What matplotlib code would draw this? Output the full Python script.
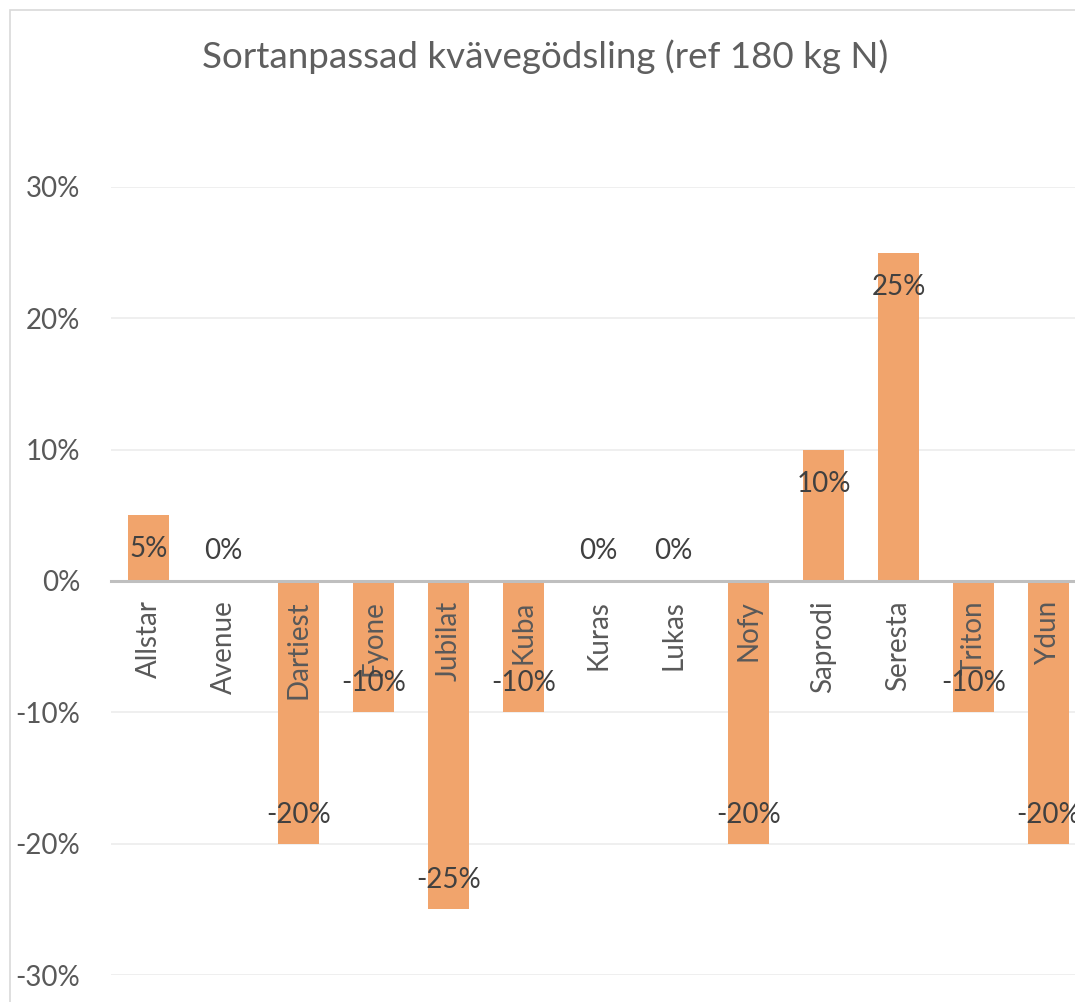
import numpy as np
import matplotlib.pyplot as plt
from matplotlib.patches import Rectangle
from matplotlib.ticker import PercentFormatter

sorter = ["Allstar", "Avenue", "Dartiest", "Fyone", "Jubilat", "Kuba", "Kuras",
          "Lukas", "Nofy", "Saprodi", "Seresta", "Triton", "Ydun"]
andel = [5, 0, -20, -10, -25, -10, 0, 0, -20, 10, 25, -10, -20]
yticks = [-30, -20, -10, 0, 10, 20, 30]

plt.rcParams['font.family'] = ['Lato', 'DejaVu Sans']
plt.rcParams['axes.unicode_minus'] = False

W, H = 1075, 1002
fig = plt.figure(figsize=(W / 100, H / 100), dpi=100)

# chart border (cut off on the right and bottom)
fig.patches.append(Rectangle((10 / W, -0.05), 1.1, (H - 10) / H + 0.05,
                             transform=fig.transFigure, fill=False,
                             edgecolor='#d9d9d9', linewidth=1.2))

fig.text(545 / W, 1 - 57 / H, "Sortanpassad kvävegödsling (ref 180 kg N)",
         ha='center', va='center', fontsize=26.5, color='#5f5f5f')

left, right, top, bottom = 111, 111 + 13 * 75, 187, 975
ax = fig.add_axes([left / W, 1 - bottom / H, (right - left) / W, (bottom - top) / H])
ax.set_facecolor('none')
ax.set_axisbelow(False)

x = np.arange(len(sorter))
ax.bar(x, andel, width=0.55, color='#f1a46c', zorder=2)

ax.set_xlim(-0.5, len(sorter) - 0.5)
ax.set_ylim(-30, 30)
ax.set_yticks(yticks)
ax.yaxis.set_major_formatter(PercentFormatter(decimals=0))
ax.tick_params(axis='y', length=0, pad=22, labelsize=20, labelcolor='#595959')
for t in yticks:
    if t != 0:
        ax.axhline(t, color='#ececec', linewidth=1.2, zorder=0)

for s in ['left', 'right', 'top']:
    ax.spines[s].set_visible(False)
ax.spines['bottom'].set_position(('data', 0))
ax.spines['bottom'].set_color('#bfbfbf')
ax.spines['bottom'].set_linewidth(2.2)
ax.spines['bottom'].set_zorder(3)

ax.set_xticks(x)
ax.set_xticklabels(sorter, rotation=90)
ax.tick_params(axis='x', length=0, pad=14, labelsize=20, labelcolor='#595959')
ax.xaxis.set_zorder(3)

# data labels: inside end, zero values sit just above the axis
for xi, v in zip(x, andel):
    if v > 0:
        off = -34
    elif v == 0:
        off = 30
    else:
        off = 29
    ax.annotate(f"{v}%", (xi, v), xytext=(0, off), textcoords='offset pixels',
                ha='center', va='center', fontsize=20, color='#404040', zorder=5)

fig.savefig('out.png', dpi=100)
